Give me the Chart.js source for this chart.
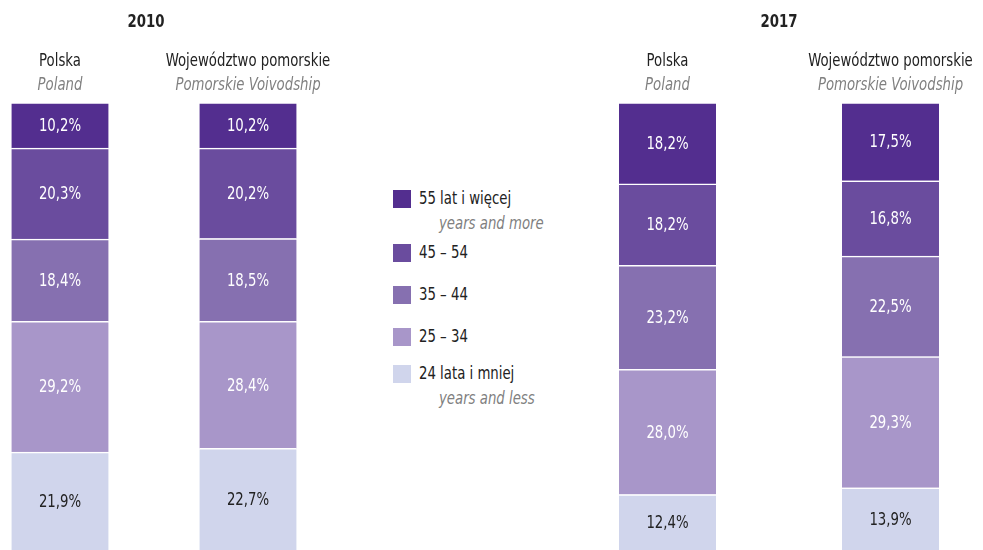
<!DOCTYPE html>
<html>
<head>
<meta charset="utf-8">
<script src="https://cdn.jsdelivr.net/npm/chart.js@4"></script>
<style>
  html, body { margin: 0; padding: 0; background: #fff; }
  body { width: 983px; height: 550px; position: relative; overflow: hidden;
         font-family: 'Liberation Sans Narrow', 'DejaVu Sans Condensed', 'Roboto Condensed', sans-serif; }
  .panel { position: absolute; top: 0; height: 550px; }
  #left { left: -34.5px; width: 376px; }
  #right { left: 556px; width: 446px; }
  .legend { position: absolute; left: 393px; top: 0; color: #222; font-size: 18px; }
  .legend .item { position: absolute; left: 0; white-space: nowrap; }
  .legend .sw { position: absolute; left: 0; top: 0; width: 18px; height: 18px; }
  .legend .lab, .legend .sub { position: absolute; line-height: 20px; transform: scaleX(0.82); transform-origin: 0 50%; }
  .legend .lab { left: 26px; top: -2px; }
  .legend .sub { left: 46px; top: 23px; font-style: italic; color: #808080; }
</style>
</head>
<body>
<div class="panel" id="left"><canvas id="c2010"></canvas></div>
<div class="panel" id="right"><canvas id="c2017"></canvas></div>
<div class="legend" id="legend"></div>
<script>
// Age groups, bottom of the stack first
const AGE_GROUPS = ['24 lata i mniej', '25 – 34', '35 – 44', '45 – 54', '55 lat i więcej'];
const AGE_GROUPS_EN = ['years and less', '', '', '', 'years and more'];
const COLORS = ['#d0d5ec', '#a896c9', '#8670b0', '#6a4c9e', '#532e8f'];
const LABEL_COLORS = ['#222222', '#ffffff', '#ffffff', '#ffffff', '#ffffff'];

const REGIONS = ['Polska', 'Województwo pomorskie'];
const REGIONS_EN = ['Poland', 'Pomorskie Voivodship'];

// shares in %, same order as AGE_GROUPS; each inner array = [Polska, Pomorskie]
const DATA_2010 = [
  [21.9, 22.7],
  [29.2, 28.4],
  [18.4, 18.5],
  [20.3, 20.2],
  [10.2, 10.2],
];
const DATA_2017 = [
  [12.4, 13.9],
  [28.0, 29.3],
  [23.2, 22.5],
  [18.2, 16.8],
  [18.2, 17.5],
];

const FONT = "'Liberation Sans Narrow', 'DejaVu Sans Condensed', sans-serif";
const SQUEEZE = 0.82; // fake a condensed face

function narrowText(ctx, text, x, y) {
  ctx.save();
  ctx.translate(x, y);
  ctx.scale(SQUEEZE, 1);
  ctx.fillText(text, 0, 0);
  ctx.restore();
}

// draws the year, the column headers and the % labels inside segments
const textPlugin = {
  id: 'texts',
  afterDatasetsDraw(chart, args, opts) {
    const ctx = chart.ctx;
    const x = chart.scales.x;
    ctx.save();
    ctx.textAlign = 'center';
    ctx.textBaseline = 'middle';

    ctx.font = 'bold 18px ' + FONT;
    ctx.fillStyle = '#222';
    narrowText(ctx, opts.year, (x.left + x.right) / 2 + opts.yearShift, 22);

    REGIONS.forEach((r, i) => {
      const cx = x.getPixelForValue(i);
      ctx.font = '18px ' + FONT;
      ctx.fillStyle = '#222';
      narrowText(ctx, r, cx, 61);
      ctx.font = 'italic 18px ' + FONT;
      ctx.fillStyle = '#808080';
      narrowText(ctx, REGIONS_EN[i], cx, 85);
    });

    ctx.font = '18px ' + FONT;
    chart.data.datasets.forEach((ds, di) => {
      const meta = chart.getDatasetMeta(di);
      meta.data.forEach((bar, i) => {
        const v = ds.data[i];
        ctx.fillStyle = LABEL_COLORS[di];
        narrowText(ctx, v.toFixed(1).replace('.', ',') + '%', bar.x, (bar.y + bar.base) / 2 + 1);
      });
    });
    ctx.restore();
  }
};

function makeChart(id, year, values, yearShift) {
  return new Chart(document.getElementById(id), {
    type: 'bar',
    data: {
      labels: REGIONS,
      datasets: AGE_GROUPS.map((g, i) => ({
        label: g,
        data: values[i],
        backgroundColor: COLORS[i],
        borderColor: '#ffffff',
        borderWidth: { top: 1.5, bottom: 0, left: 0, right: 0 },
        borderSkipped: false,
        barThickness: 97,
      })),
    },
    options: {
      responsive: true,
      maintainAspectRatio: false,
      animation: false,
      layout: { padding: { top: 102.5, bottom: 0, left: 0, right: 0 } },
      scales: {
        x: { stacked: true, display: false },
        y: { stacked: true, display: false, min: 0, max: 100 },
      },
      plugins: {
        legend: { display: false },
        tooltip: { enabled: false },
        texts: { year: year, yearShift: yearShift },
      },
    },
    plugins: [textPlugin],
  });
}

makeChart('c2010', '2010', DATA_2010, -8);
makeChart('c2017', '2017', DATA_2017, 0);

// legend, top to bottom
const LEGEND_TOPS = [190, 244, 286, 328, 365];
const legend = document.getElementById('legend');
for (let k = 0; k < AGE_GROUPS.length; k++) {
  const i = AGE_GROUPS.length - 1 - k;
  const item = document.createElement('div');
  item.className = 'item';
  item.style.top = LEGEND_TOPS[k] + 'px';
  item.innerHTML = '<div class="sw" style="background:' + COLORS[i] + '"></div>' +
    '<div class="lab">' + AGE_GROUPS[i] + '</div>' +
    (AGE_GROUPS_EN[i] ? '<div class="sub">' + AGE_GROUPS_EN[i] + '</div>' : '');
  legend.appendChild(item);
}
</script>
</body>
</html>
